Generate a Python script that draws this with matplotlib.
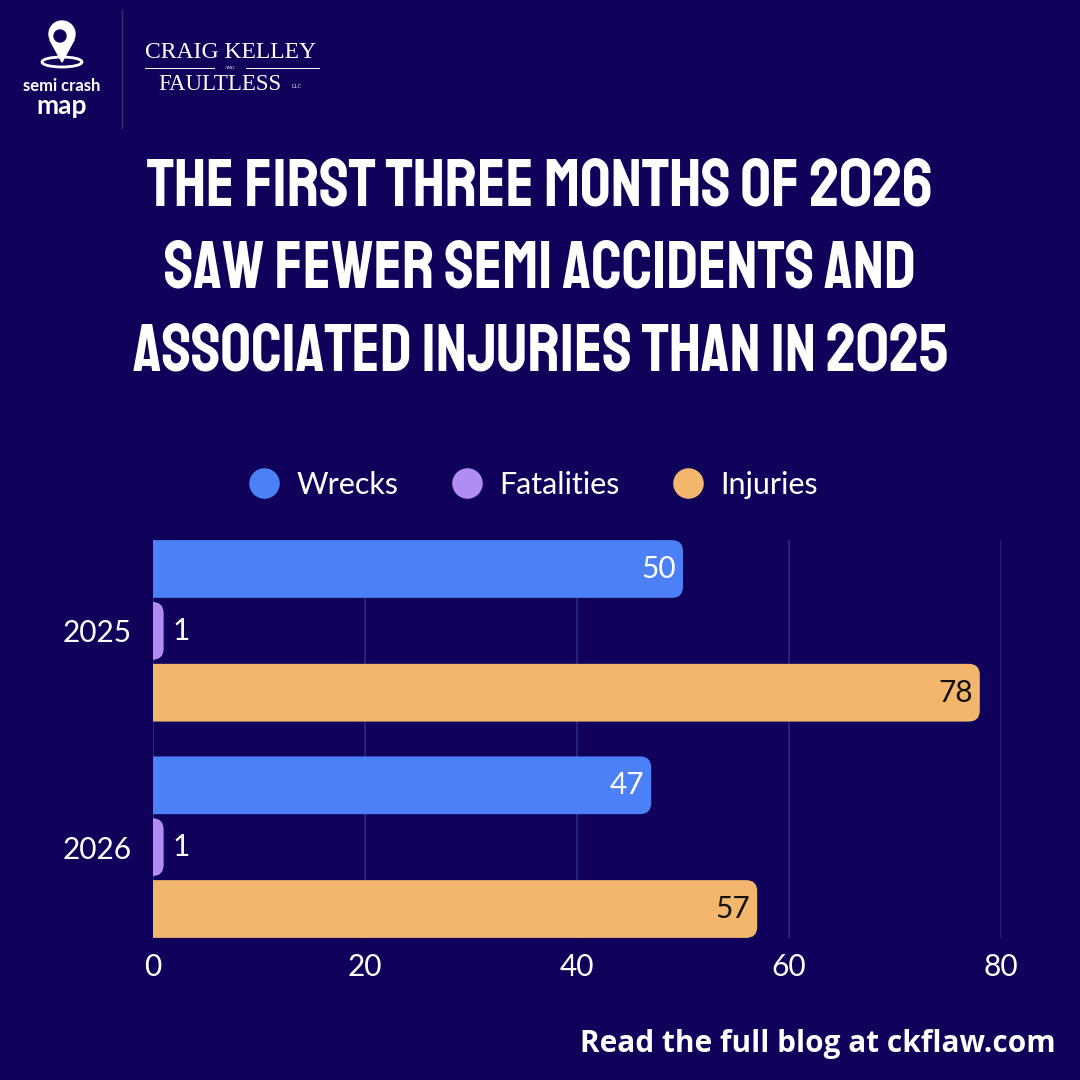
import matplotlib
matplotlib.use("Agg")
import matplotlib.pyplot as plt
from matplotlib.patches import FancyBboxPatch, Circle, Ellipse, Polygon
from matplotlib.lines import Line2D

# data
years = ["2025", "2026"]
series = ["Wrecks", "Fatalities", "Injuries"]
wrecks = [50, 47]
fatalities = [1, 1]
injuries = [78, 57]
x_ticks = [0, 20, 40, 60, 80]

title_lines = ["The first three months of 2026",
               "saw fewer semi accidents and",
               "associated injuries than in 2025"]
footer = "Read the full blog at ckflaw.com"

BG = "#10025a"
GRID = "#2e2a78"
colors = {"Wrecks": "#4b80f7", "Fatalities": "#b18cf2", "Injuries": "#f2b76c"}
label_colors = {"Wrecks": "white", "Fatalities": "white", "Injuries": "#111111"}
NUM_FONT = ["Lato", "DejaVu Sans"]

fig = plt.figure(figsize=(10.8, 10.8), dpi=100, facecolor=BG)

# full-figure overlay in pixel coords for the decorations
deco = fig.add_axes([0, 0, 1, 1])
deco.set_xlim(0, 1080)
deco.set_ylim(1080, 0)
deco.axis("off")

# logo: semi crash map
deco.add_patch(Circle((62, 34), 13, color="white"))
deco.add_patch(Polygon([[50, 40], [74, 40], [62, 62]], color="white"))
deco.add_patch(Circle((60, 36), 6, color=BG))
deco.add_patch(Ellipse((62, 62), 40, 10, fill=False, ec="white", lw=2))
deco.text(62, 86, "semi crash", color="white", ha="center", va="center",
          fontsize=12, family=["Lato", "DejaVu Sans"], fontweight="bold")
deco.text(62, 106, "map", color="white", ha="center", va="center",
          fontsize=19, family=["Lato", "DejaVu Sans"], fontweight="bold")
deco.plot([122, 122], [10, 128], color="#3a3560", lw=1)
deco.text(231, 53, "CRAIG KELLEY", color="white", ha="center", va="center",
          fontsize=17, family=["Liberation Serif", "DejaVu Serif"])
deco.plot([145, 214], [68, 68], color="white", lw=0.7)
deco.plot([246, 319], [68, 68], color="white", lw=0.7)
deco.text(230, 68, "AND", color="white", ha="center", va="center",
          fontsize=3.5, family=["Liberation Serif", "DejaVu Serif"])
deco.text(220, 84, "FAULTLESS", color="white", ha="center", va="center",
          fontsize=16.5, family=["Liberation Serif", "DejaVu Serif"])
deco.text(292, 87, "LLC", color="white", ha="left", va="center",
          fontsize=4, family=["Liberation Serif", "DejaVu Serif"])

# title
for line, yc in zip(title_lines, [182, 264, 347]):
    deco.text(540, yc, line.upper(), color="white", ha="center",
              va="center", fontsize=48.5,
              family=["Staatliches", "DejaVu Sans"])

deco.text(1056, 1044, footer, color="white", ha="right", va="center",
          fontsize=21.4, fontweight="bold",
          family=["Open Sans", "DejaVu Sans"])

# chart
ax = fig.add_axes([153 / 1080, 1 - 938 / 1080, (1001 - 153) / 1080,
                   (938 - 540) / 1080])
ax.set_facecolor("none")
step = 0.286
height = 0.267
values = {"Wrecks": wrecks, "Fatalities": fatalities, "Injuries": injuries}
px_x = (1001 - 153) / 80.0
px_y = (938 - 540) / 1.84
radius = 11 / px_x
aspect = (11 / px_y) / radius

for i, name in enumerate(series):
    pos = [k + (i - 1) * step for k in range(len(years))]
    bars = ax.barh(pos, values[name], height=height, color=colors[name],
                   label=name)
    for rect, v in zip(bars.patches, values[name]):
        rect.set_visible(False)
        x0, y0 = rect.get_x(), rect.get_y()
        w, h = rect.get_width(), rect.get_height()
        ax.add_patch(FancyBboxPatch(
            (x0 - 3, y0), w + 3, h,
            boxstyle=f"round,pad=0,rounding_size={radius}",
            mutation_aspect=aspect, fc=colors[name], ec="none", zorder=3))
        yc = y0 + h / 2
        if v < 5:
            ax.annotate(str(v), (v, yc), xytext=(9, 0),
                        textcoords="offset pixels", ha="left", va="center",
                        color=label_colors[name], fontsize=21.5,
                        family=NUM_FONT, zorder=4)
        else:
            ax.annotate(str(v), (v, yc), xytext=(-7, 0),
                        textcoords="offset pixels", ha="right", va="center",
                        color=label_colors[name], fontsize=21.5,
                        family=NUM_FONT, zorder=4)

ax.set_xlim(0, 80)
ax.set_ylim(1.42, -0.42)
ax.set_xticks(x_ticks)
ax.set_xticklabels([str(t) for t in x_ticks])
ax.set_yticks(range(len(years)))
ax.set_yticklabels(years)
ax.tick_params(length=0, labelcolor="white", labelsize=21.5)
ax.tick_params(axis="x", pad=11)
ax.tick_params(axis="y", pad=15)
for lab in ax.get_xticklabels() + ax.get_yticklabels():
    lab.set_family(NUM_FONT)
ax.grid(axis="x", color=GRID, lw=1.2, zorder=0)
ax.set_axisbelow(True)
for s in ax.spines.values():
    s.set_visible(False)

handles = [Line2D([], [], marker="o", ls="none", markersize=22,
                  markerfacecolor=colors[n], markeredgecolor="none")
           for n in series]
leg = fig.legend(handles, series, loc="center", ncol=3, frameon=False,
                 bbox_to_anchor=(0.487, 1 - 485 / 1080),
                 handletextpad=0.05, columnspacing=1.25,
                 prop={"family": NUM_FONT, "size": 22})
for t in leg.get_texts():
    t.set_color("white")

fig.savefig("out.png", dpi=100, facecolor=BG)
